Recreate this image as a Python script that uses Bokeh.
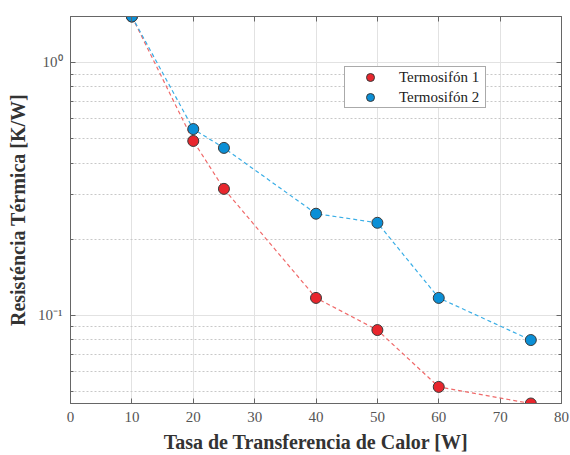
from bokeh.plotting import figure
from bokeh.models import LinearAxis, LogAxis, Legend, LegendItem, FixedTicker, ColumnDataSource
from bokeh.embed import file_html
from bokeh.resources import INLINE

# Data
potencia = [10, 20, 25, 40, 50, 60, 75]
termosifon1 = [1.52, 0.489, 0.316, 0.117, 0.0873, 0.052, 0.0447]
termosifon2 = [1.52, 0.545, 0.459, 0.252, 0.232, 0.117, 0.0797]
x_ticks = [0, 10, 20, 30, 40, 50, 60, 70, 80]
y_major = [0.1, 1.0]
y_minor = [0.05, 0.06, 0.07, 0.08, 0.09, 0.2, 0.3, 0.4, 0.5, 0.6, 0.7, 0.8, 0.9]
y_labels = {0.1: "10\u207b\u00b9", 1.0: "10\u2070"}
series_names = ["Termosif\u00f3n 1", "Termosif\u00f3n 2"]

FONT = "Liberation Serif"
RED = "#e8262d"
BLUE = "#0b8fd6"
AX = "#666666"

p = figure(width=570, height=455, y_axis_type="log",
           x_range=(0, 80), y_range=(0.0447, 1.52),
           output_backend="svg", toolbar_location=None,
           min_border_left=70, min_border_right=9, min_border_top=16, min_border_bottom=50,
           background_fill_color="white", border_fill_color="white")
p.outline_line_color = AX

s1 = ColumnDataSource(dict(x=potencia, y=termosifon1))
s2 = ColumnDataSource(dict(x=potencia, y=termosifon2))

p.line("x", "y", source=s1, line_color="#f06a6a", line_dash="4 3", line_width=1.2)
p.line("x", "y", source=s2, line_color="#3aaee6", line_dash="4 3", line_width=1.2)
r1 = p.scatter("x", "y", source=s1, size=11, fill_color=RED, line_color="#3a3a3a", line_width=1)
r2 = p.scatter("x", "y", source=s2, size=11, fill_color=BLUE, line_color="#3a3a3a", line_width=1)

y_ticker = FixedTicker(ticks=y_major, minor_ticks=y_minor)
x_ticker = FixedTicker(ticks=x_ticks)

# axes
xa = p.xaxis[0]
xa.ticker = x_ticker
xa.axis_label = "Tasa de Transferencia de Calor [W]"
ya = p.yaxis[0]
ya.ticker = y_ticker
ya.major_label_overrides = y_labels
ya.axis_label = "Resist\u00e9ncia T\u00e9rmica [K/W]"

for ax in (xa, ya):
    ax.axis_label_text_font = FONT
    ax.axis_label_text_font_style = "bold"
    ax.axis_label_text_font_size = "20px"
    ax.axis_label_text_color = "#333333"
    ax.major_label_text_font = FONT
    ax.major_label_text_font_size = "15px"
    ax.major_label_text_color = "#555555"
    ax.axis_line_color = AX
    ax.major_tick_line_color = AX
    ax.minor_tick_line_color = AX
    ax.major_tick_in = 5
    ax.major_tick_out = 0
    ax.minor_tick_in = 3
    ax.minor_tick_out = 0
    ax.major_label_standoff = 8
    ax.axis_label_standoff = 6
xa.minor_tick_line_color = None

top = LinearAxis(ticker=x_ticker, major_label_overrides={t: "" for t in x_ticks},
                 major_tick_in=5, major_tick_out=0, minor_tick_line_color=None,
                 axis_line_color=AX, major_tick_line_color=AX, major_label_standoff=0)
p.add_layout(top, "above")
right = LogAxis(ticker=y_ticker, major_label_overrides={t: "" for t in y_major},
                major_tick_in=5, major_tick_out=0, minor_tick_in=3, minor_tick_out=0,
                axis_line_color=AX, major_tick_line_color=AX,
                minor_tick_line_color=AX, major_label_standoff=0)
p.add_layout(right, "right")

# grids
p.xgrid.ticker = x_ticker
p.ygrid.ticker = y_ticker
p.xgrid.grid_line_color = "#e2e2e2"
p.ygrid.grid_line_color = "#e2e2e2"
p.ygrid.minor_grid_line_color = "#c8c8c8"
p.ygrid.minor_grid_line_dash = "2 2"

legend = Legend(items=[LegendItem(label=series_names[0], renderers=[r1]),
                       LegendItem(label=series_names[1], renderers=[r2])],
                location=(274, 295))
legend.label_text_font = FONT
legend.label_text_font_size = "15px"
legend.label_text_color = "#222222"
legend.border_line_color = "#555555"
legend.border_line_width = 1
legend.background_fill_alpha = 1
legend.padding = 0
legend.spacing = 0
legend.glyph_width = 50
legend.glyph_height = 20
legend.label_height = 20
legend.label_width = 86
legend.label_standoff = 4
legend.margin = 0
p.add_layout(legend)

open("out.html", "w").write(file_html(p, INLINE))
